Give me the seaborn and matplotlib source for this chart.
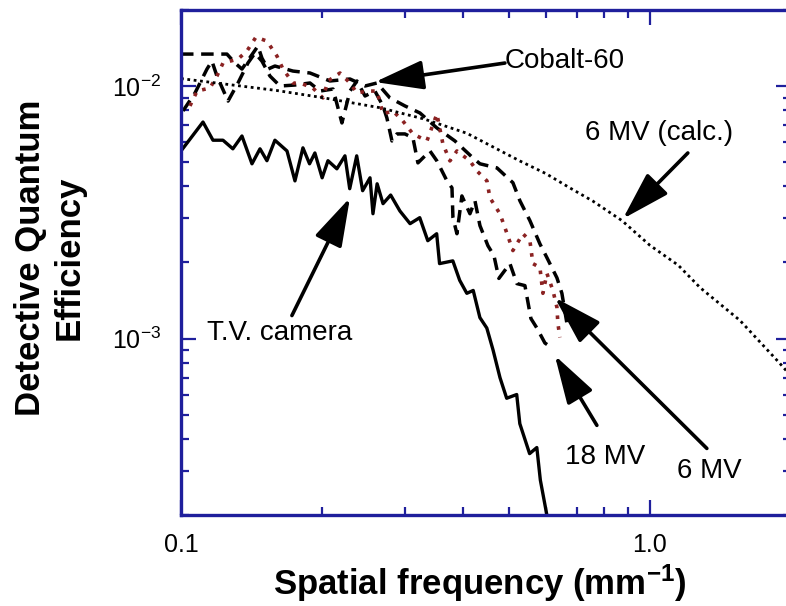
import matplotlib
matplotlib.use("Agg")
import matplotlib.pyplot as plt
import matplotlib.ticker as mticker
import seaborn as sns
import pandas as pd

# ---------------- data ----------------
tv_x = [0.100, 0.1114, 0.117, 0.1229, 0.129, 0.1349, 0.1417, 0.1474, 0.1525, 0.1586,
        0.1683, 0.175, 0.182, 0.188, 0.193, 0.200, 0.2058, 0.215, 0.2237, 0.229,
        0.237, 0.244, 0.253, 0.2567, 0.262, 0.2697, 0.280, 0.293, 0.308, 0.323,
        0.336, 0.351, 0.356, 0.380, 0.393, 0.407, 0.420, 0.434, 0.449, 0.463,
        0.479, 0.495, 0.520, 0.528, 0.554, 0.574, 0.584, 0.603]
tv_y = [0.00553, 0.0072, 0.0061, 0.0061, 0.00564, 0.00634, 0.00492, 0.00564, 0.00506, 0.0061,
        0.00553, 0.00421, 0.00569, 0.00492, 0.00543, 0.00433, 0.00506, 0.0047, 0.00529, 0.00392,
        0.00529, 0.00385, 0.00433, 0.00312, 0.0041, 0.00342, 0.0037, 0.0032, 0.00285, 0.00301,
        0.00244, 0.0026, 0.00198, 0.00203, 0.0017, 0.00151, 0.00155, 0.00121, 0.0011, 0.0009,
        0.0007, 0.00058, 0.0006, 0.00046, 0.00035, 0.00037, 0.000275, 0.0002]

co_x = [0.100, 0.1253, 0.1304, 0.1349, 0.1459, 0.1488, 0.1533, 0.1586, 0.1733, 0.1884,
        0.2078, 0.2293, 0.2469, 0.2618, 0.279, 0.3003, 0.3233, 0.3514, 0.3839, 0.4195,
        0.4341, 0.4719, 0.5104, 0.5283, 0.5548, 0.5828, 0.6032, 0.6335, 0.6492, 0.6653]
co_y = [0.01338, 0.01338, 0.01233, 0.01167, 0.01439, 0.0129, 0.01167, 0.0120, 0.01146, 0.01126,
        0.01047, 0.01066, 0.0100, 0.01028, 0.00897, 0.00834, 0.00782, 0.00682, 0.00606, 0.00519,
        0.00492, 0.00474, 0.00414, 0.00351, 0.00293, 0.00237, 0.00209, 0.00174, 0.00151, 0.00115]

mv18_x = [0.101, 0.1071, 0.1136, 0.1164, 0.1193, 0.126, 0.1323, 0.1389, 0.1438, 0.1488,
          0.1548, 0.1626, 0.175, 0.1884, 0.1979, 0.211, 0.2204, 0.2293, 0.2373, 0.2469,
          0.2592, 0.2696, 0.2749, 0.2818, 0.2888, 0.3003, 0.3124, 0.3201, 0.3396, 0.3514,
          0.3692, 0.3784, 0.3802, 0.3877, 0.3973, 0.4133, 0.4236, 0.4341, 0.4515, 0.465,
          0.4764, 0.503, 0.5205, 0.5414, 0.5576, 0.5742, 0.5972, 0.6121]
mv18_y = [0.00797, 0.00938, 0.01167, 0.01255, 0.01095, 0.00872, 0.01028, 0.01233, 0.0135, 0.01255,
          0.01095, 0.0100, 0.01009, 0.01028, 0.00955, 0.00973, 0.00714, 0.00955, 0.01047, 0.00913,
          0.00955, 0.00834, 0.00747, 0.00606, 0.00646, 0.00646, 0.00623, 0.00496, 0.00553, 0.00505,
          0.00421, 0.00395, 0.00301, 0.0026, 0.00367, 0.00312, 0.00351, 0.0028, 0.00233, 0.00213,
          0.00173, 0.00198, 0.00165, 0.00162, 0.0012, 0.0011, 0.00096, 0.00093]

mv6_x = [0.1045, 0.1082, 0.1153, 0.1193, 0.1229, 0.1323, 0.1382, 0.1445, 0.1525, 0.1602,
         0.165, 0.1733, 0.182, 0.1911, 0.2008, 0.2058, 0.2183, 0.2293, 0.2373, 0.2493,
         0.2618, 0.2696, 0.2831, 0.2973, 0.3124, 0.3346, 0.3514, 0.3619, 0.3746, 0.3877,
         0.4133, 0.4277, 0.4493, 0.4559, 0.4788, 0.4907, 0.5104, 0.536, 0.5548, 0.563,
         0.5828, 0.5914, 0.6032, 0.6212, 0.6335, 0.6365, 0.6428]
mv6_y = [0.00834, 0.00955, 0.00982, 0.01095, 0.01233, 0.01279, 0.01375, 0.01562, 0.01506, 0.01314,
         0.01167, 0.01028, 0.01018, 0.00982, 0.00897, 0.01047, 0.01126, 0.01028, 0.00938, 0.00955,
         0.00955, 0.00775, 0.00797, 0.00727, 0.00646, 0.00606, 0.00775, 0.0059, 0.00505, 0.00553,
         0.00505, 0.00461, 0.00421, 0.00361, 0.00312, 0.00275, 0.00223, 0.0026, 0.00244, 0.00198,
         0.00191, 0.00151, 0.00181, 0.00155, 0.00133, 0.00115, 0.00101]

calc_x = [0.1, 0.134, 0.16, 0.2, 0.266, 0.33, 0.407, 0.528, 0.6, 0.675,
          0.756, 0.872, 1.0, 1.15, 1.28, 1.556, 1.89, 2.0]
calc_y = [0.0107, 0.0100, 0.0096, 0.0090, 0.0082, 0.0074, 0.0065, 0.00505, 0.0045, 0.00395,
          0.0035, 0.00293, 0.00234, 0.00195, 0.00159, 0.00118, 0.0008, 0.00071]

x_major = [0.1, 1.0]
x_major_labels = ["0.1", "1.0"]
y_major = [1e-3, 1e-2]
y_major_labels = [r"$10^{-3}$", r"$10^{-2}$"]

# ---------------- style ----------------
sns.set_style("white")
FONT = "Liberation Sans"
plt.rcParams["font.family"] = [FONT, "DejaVu Sans"]
plt.rcParams["mathtext.fontset"] = "custom"
plt.rcParams["mathtext.rm"] = FONT
plt.rcParams["mathtext.bf"] = FONT + ":bold"
plt.rcParams["mathtext.it"] = FONT + ":italic"
plt.rcParams["text.color"] = "black"
plt.rcParams["axes.labelcolor"] = "black"

SPINE = "#1f1f9c"

fig = plt.figure(figsize=(7.86, 6.06), dpi=100)
ax = fig.add_axes([181 / 786, 91 / 606, (791 - 181) / 786, (515 - 10) / 606])

frames = {
    "T.V. camera": (tv_x, tv_y),
    "Cobalt-60": (co_x, co_y),
    "18 MV": (mv18_x, mv18_y),
    "6 MV": (mv6_x, mv6_y),
    "6 MV (calc.)": (calc_x, calc_y),
}
styles = {
    "T.V. camera": dict(color="black", linewidth=2.4, linestyle="-"),
    "Cobalt-60": dict(color="black", linewidth=2.5, linestyle=(0, (3.6, 2.2))),
    "18 MV": dict(color="black", linewidth=2.5, linestyle=(0, (3.6, 2.2))),
    "6 MV": dict(color="#8b2222", linewidth=2.6, linestyle=(0, (1, 2.0))),
    "6 MV (calc.)": dict(color="black", linewidth=2.0, linestyle=(0, (1, 1.3))),
}
for name, (xs, ys) in frames.items():
    df = pd.DataFrame({"freq": xs, "dqe": ys})
    sns.lineplot(data=df, x="freq", y="dqe", ax=ax, sort=False, estimator=None,
                 **styles[name])

ax.set_xscale("log")
ax.set_yscale("log")
ax.set_xlim(0.1, 2.0)
ax.set_ylim(2e-4, 2e-2)

ax.xaxis.set_major_locator(mticker.FixedLocator(x_major))
ax.xaxis.set_major_formatter(mticker.FixedFormatter(x_major_labels))
ax.xaxis.set_minor_locator(mticker.LogLocator(base=10, subs=range(2, 10)))
ax.xaxis.set_minor_formatter(mticker.NullFormatter())
ax.yaxis.set_major_locator(mticker.FixedLocator(y_major))
ax.yaxis.set_major_formatter(mticker.FixedFormatter(y_major_labels))
ax.yaxis.set_minor_locator(mticker.LogLocator(base=10, subs=range(2, 10)))
ax.yaxis.set_minor_formatter(mticker.NullFormatter())

for sp in ax.spines.values():
    sp.set_color(SPINE)
    sp.set_linewidth(2.4)
ax.tick_params(which="both", direction="in", colors=SPINE, bottom=True, left=True,
               top=True, right=True, labelcolor="black", labelsize=18)
ax.tick_params(which="major", length=11, width=1.6)
ax.tick_params(which="minor", length=6, width=1.6)
ax.tick_params(axis="x", which="major", pad=13)
ax.tick_params(axis="y", which="major", pad=14)

ax.set_xlabel(r"Spatial frequency (mm$^{\mathbf{-1}}$)", fontsize=25, fontweight="bold",
              color="black")
ax.set_ylabel("Detective Quantum\nEfficiency", fontsize=25, fontweight="bold",
              linespacing=1.25, color="black")
ax.xaxis.label.set_va("center")
ax.yaxis.label.set_va("center")
ax.yaxis.label.set_ha("center")
ax.xaxis.set_label_coords(0.49, -0.135)
ax.yaxis.set_label_coords(-0.215, 0.51)

# ---------------- annotations ----------------
arrow = dict(arrowstyle="-|>,head_length=1.5,head_width=0.45", lw=2.6, color="black",
             mutation_scale=20, shrinkA=0, shrinkB=0)
ann_fs = 20
tk = dict(fontsize=ann_fs, ha="left", va="center", color="black")
ax.annotate("", xy=(0.2592, 0.01037), xytext=(0.4907, 0.01233), arrowprops=arrow)
ax.text(0.4907, 0.01255, "Cobalt-60", **tk)

ax.annotate("", xy=(0.876, 0.00298), xytext=(1.205, 0.00543), arrowprops=arrow)
ax.text(0.7265, 0.00652, "6 MV (calc.)", **tk)

ax.annotate("", xy=(0.2293, 0.00361), xytext=(0.1724, 0.001233), arrowprops=arrow)
ax.text(0.1136, 0.001056, "T.V. camera", **tk)

ax.annotate("", xy=(0.627, 0.000857), xytext=(0.7709, 0.000453), arrowprops=arrow)
ax.text(0.659, 0.000339, "18 MV", **tk)

ax.annotate("", xy=(0.627, 0.001452), xytext=(1.323, 0.000367), arrowprops=arrow)
ax.text(1.1422, 0.000298, "6 MV", **tk)

fig.savefig("out.png", dpi=100)
